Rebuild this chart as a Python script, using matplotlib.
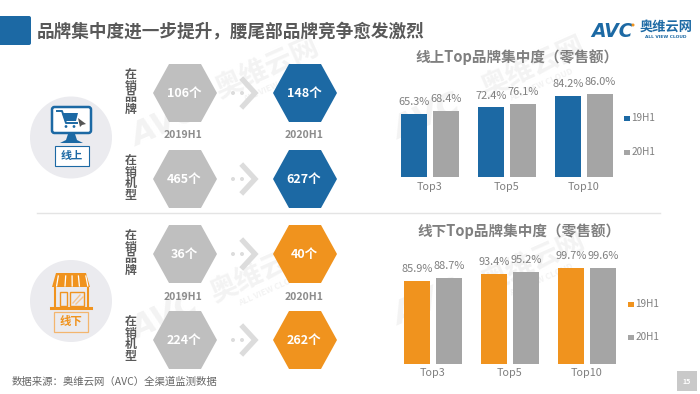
import matplotlib
matplotlib.use('Agg')
import matplotlib.pyplot as plt
from matplotlib.patches import Circle, FancyBboxPatch, Polygon, Rectangle
import numpy as np

plt.rcParams['font.family'] = ['Noto Sans CJK SC', 'DejaVu Sans']

groups = ['Top3', 'Top5', 'Top10']
online_19 = [65.3, 72.4, 84.2]
online_20 = [68.4, 76.1, 86.0]
offline_19 = [85.9, 93.4, 99.7]
offline_20 = [88.7, 95.2, 99.6]
series_names = ['19H1', '20H1']

online_brands = [106, 148]
online_models = [465, 627]
offline_brands = [36, 40]
offline_models = [224, 262]
years = ['2019H1', '2020H1']

BLUE = '#1c69a4'
ORANGE = '#f0931e'
BAR_GRAY = '#a5a5a5'
HEX_GRAY = '#bfbfbf'
TXT = '#7f7f7f'
MARK = '#f3f3f3'

W, H = 700, 394
fig = plt.figure(figsize=(7, 3.94), dpi=100)
bg = fig.add_axes([0, 0, 1, 1])
bg.set_xlim(0, W)
bg.set_ylim(H, 0)
bg.axis('off')


def watermark(x, y, big_x, big_y):
    bg.text(x, y, '奥维云网', fontsize=20, fontweight='bold', color=MARK, rotation=24,
            ha='center', va='center', zorder=1)
    bg.text(x + 8, y + 18, 'ALL VIEW CLOUD', fontsize=6, fontweight='bold', color=MARK, rotation=24,
            ha='center', va='center', zorder=1)
    bg.text(big_x, big_y, 'AVC', fontsize=23, fontweight='bold', style='italic', color=MARK, rotation=24,
            ha='center', va='center', family='DejaVu Sans', zorder=1)


watermark(267, 68, 165, 125)
watermark(533, 67, 427, 118)
watermark(262, 272, 165, 318)
watermark(533, 262, 427, 304)

# header
bg.add_patch(FancyBboxPatch((-5, 16), 36, 29, boxstyle='round,pad=0,rounding_size=2', fc=BLUE, ec='none', zorder=3))
bg.text(37, 31, '品牌集中度进一步提升，腰尾部品牌竞争愈发激烈', fontsize=12.7, fontweight='bold',
        color='#595959', ha='left', va='center', zorder=3)

# logo
bg.text(591, 31, 'AVC', fontsize=13.5, fontweight='bold', style='italic', color=BLUE, family='DejaVu Sans',
        ha='left', va='center', zorder=3)
bg.add_patch(Circle((633, 25), 1.5, fc=ORANGE, ec='none', zorder=4))
bg.text(666, 27, '奥维云网', fontsize=9.5, fontweight='bold', color=BLUE, ha='center', va='center', zorder=3)
bg.text(666, 37, 'ALL VIEW CLOUD', fontsize=3.2, fontweight='bold', color=BLUE, family='DejaVu Sans',
        ha='center', va='center', zorder=3)

bg.plot([37, 660], [213, 213], color='#e4e4e4', lw=1, zorder=2)


def hexagon(cx, cy, color, label):
    rx, ry = 32, 29
    pts = [(cx - rx, cy), (cx - rx / 2, cy - ry), (cx + rx / 2, cy - ry),
           (cx + rx, cy), (cx + rx / 2, cy + ry), (cx - rx / 2, cy + ry)]
    bg.add_patch(Polygon(pts, closed=True, fc=color, ec='none', zorder=3))
    bg.text(cx - 1, cy + 0.5, label, fontsize=9, fontweight='bold', color='white', ha='center', va='center', zorder=4)


def arrow(cy):
    for dx in (233, 242):
        bg.add_patch(Circle((dx, cy), 2, fc='#dcdcdc', ec='none', zorder=3))
    bg.plot([243, 255, 243], [cy - 13, cy, cy + 13], color='#dcdcdc', lw=3.8, solid_joinstyle='miter', zorder=3)


def row(cy, vals, color, title):
    hexagon(185, cy, HEX_GRAY, f'{vals[0]}个')
    hexagon(305, cy, color, f'{vals[1]}个')
    arrow(cy)
    for i, ch in enumerate(title):
        bg.text(130.5, cy - 18.5 + i * 11.7, ch, fontsize=8.6, fontweight='bold', color='#595959',
                ha='center', va='center', zorder=3)


row(93, online_brands, BLUE, '在销品牌')
row(179, online_models, BLUE, '在销机型')
row(254, offline_brands, ORANGE, '在销品牌')
row(340, offline_models, ORANGE, '在销机型')
for yy in (135.5, 296.5):
    bg.text(183, yy, years[0], fontsize=7.5, fontweight='bold', color='#8c8c8c', ha='center', va='center', zorder=3)
    bg.text(304, yy, years[1], fontsize=7.5, fontweight='bold', color='#8c8c8c', ha='center', va='center', zorder=3)

# online icon
bg.add_patch(Circle((71, 137.5), 41, fc='#ebebef', ec='none', zorder=2))
bg.add_patch(FancyBboxPatch((52, 107), 39, 26, boxstyle='round,pad=0,rounding_size=2.5', fc='white', ec=BLUE, lw=1.8, zorder=3))
bg.plot([57, 62, 66, 77], [111, 111, 123, 123], color=BLUE, lw=1.4, zorder=4)
bg.add_patch(Polygon([(62, 113), (78, 113), (76, 121), (65, 121)], closed=True, fc=BLUE, ec='none', zorder=4))
bg.add_patch(Circle((66, 126.5), 1.4, fc=BLUE, ec='none', zorder=4))
bg.add_patch(Circle((74, 126.5), 1.4, fc=BLUE, ec='none', zorder=4))
bg.add_patch(Polygon([(78, 118), (86, 124), (82, 125), (80, 127)], closed=True, fc='#555555', ec='none', zorder=4))
bg.add_patch(Polygon([(68, 134), (75, 134), (77, 140), (83, 143), (60, 143), (66, 140)], closed=True, fc=BLUE, ec='none', zorder=4))
bg.add_patch(Rectangle((54.5, 146), 34, 19.5, fc='white', ec=BLUE, lw=0.8, zorder=3))
bg.text(71.5, 155.5, '线上', fontsize=8, fontweight='bold', color=BLUE, ha='center', va='center', zorder=4)

# offline icon
bg.add_patch(Circle((71, 301), 41, fc='#ebebef', ec='none', zorder=2))
bg.add_patch(Polygon([(56, 273), (86, 273), (90, 287), (52, 287)], closed=True, fc=ORANGE, ec='none', zorder=4))
for sx in (59, 66, 72, 78, 85):
    bg.plot([sx + (sx - 71) * 0.06, sx + (sx - 71) * 0.2], [276, 286], color='white', lw=0.9, zorder=5)
bg.plot([55, 55], [288, 307], color=ORANGE, lw=1.5, zorder=4)
bg.plot([88, 88], [288, 307], color=ORANGE, lw=1.5, zorder=4)
bg.plot([51, 91], [307.5, 307.5], color=ORANGE, lw=2.2, zorder=4)
bg.add_patch(Rectangle((60, 292), 7, 14, fc='none', ec=ORANGE, lw=1, zorder=4))
bg.add_patch(Rectangle((70, 292), 14, 14, fc='none', ec=ORANGE, lw=1, zorder=4))
bg.plot([73, 80], [303, 295], color='#f6c48c', lw=1, zorder=4)
bg.plot([76, 83], [304, 297], color='#f6c48c', lw=1, zorder=4)
bg.add_patch(Rectangle((54, 311.5), 34, 20, fc='none', ec='#f3b56e', lw=0.9, zorder=3))
bg.text(71, 321, '线下', fontsize=8.2, fontweight='bold', color=ORANGE, ha='center', va='center', zorder=4)

# footer
bg.text(12, 382, '数据来源：奥维云网（AVC）全渠道监测数据', fontsize=7.5, color='#666666', ha='left', va='center', zorder=3)
bg.add_patch(Rectangle((677, 371), 20, 20, fc='#c9c9c9', ec='none', zorder=3))
bg.text(687, 381, '15', fontsize=5, fontweight='bold', color='white', ha='center', va='center', zorder=4)


def bars(first_px, bottom_px, v19, v20, color, title, title_x, title_y, leg_x, leg_ys):
    step = 77.0
    left_px, right_px = first_px - 38, first_px + 192
    ax = fig.add_axes([left_px / W, 1 - bottom_px / H, (right_px - left_px) / W, 96 / H], zorder=5)
    ax.patch.set_alpha(0)
    ax.set_xlim((left_px - first_px) / step, (right_px - first_px) / step)
    ax.set_ylim(0, 100)
    x = np.arange(len(groups))
    b1 = ax.bar(x - 0.208, v19, 0.333, color=color)
    b2 = ax.bar(x + 0.208, v20, 0.333, color=BAR_GRAY)
    for rects, vals in ((b1, v19), (b2, v20)):
        for r, v in zip(rects, vals):
            ax.annotate(f'{v:.1f}%', (r.get_x() + r.get_width() / 2, v), xytext=(0, 8.6),
                        textcoords='offset points', ha='center', va='center', fontsize=7.9, color=TXT,
                        annotation_clip=False)
    ax.set_xticks(x, groups)
    ax.set_yticks([])
    ax.tick_params(axis='x', length=0, pad=3.5, labelsize=7.8, labelcolor=TXT)
    for s in ax.spines.values():
        s.set_visible(False)
    bg.text(title_x, title_y, title, fontsize=10.5, fontweight='bold', color=TXT, ha='center', va='center', zorder=3)
    for name, col, yy in zip(series_names, (color, BAR_GRAY), leg_ys):
        bg.add_patch(Rectangle((leg_x, yy - 2.5), 5.5, 5.5, fc=col, ec='none', zorder=3))
        bg.text(leg_x + 7.5, yy, name, fontsize=7.2, color=TXT, ha='left', va='center', zorder=3)


bars(430, 177, online_19, online_20, BLUE, '线上Top品牌集中度（零售额）', 517, 57, 624, (118, 152))
bars(433, 363.5, offline_19, offline_20, ORANGE, '线下Top品牌集中度（零售额）', 519, 231, 628, (304, 337))

plt.savefig('out.png', dpi=100)
